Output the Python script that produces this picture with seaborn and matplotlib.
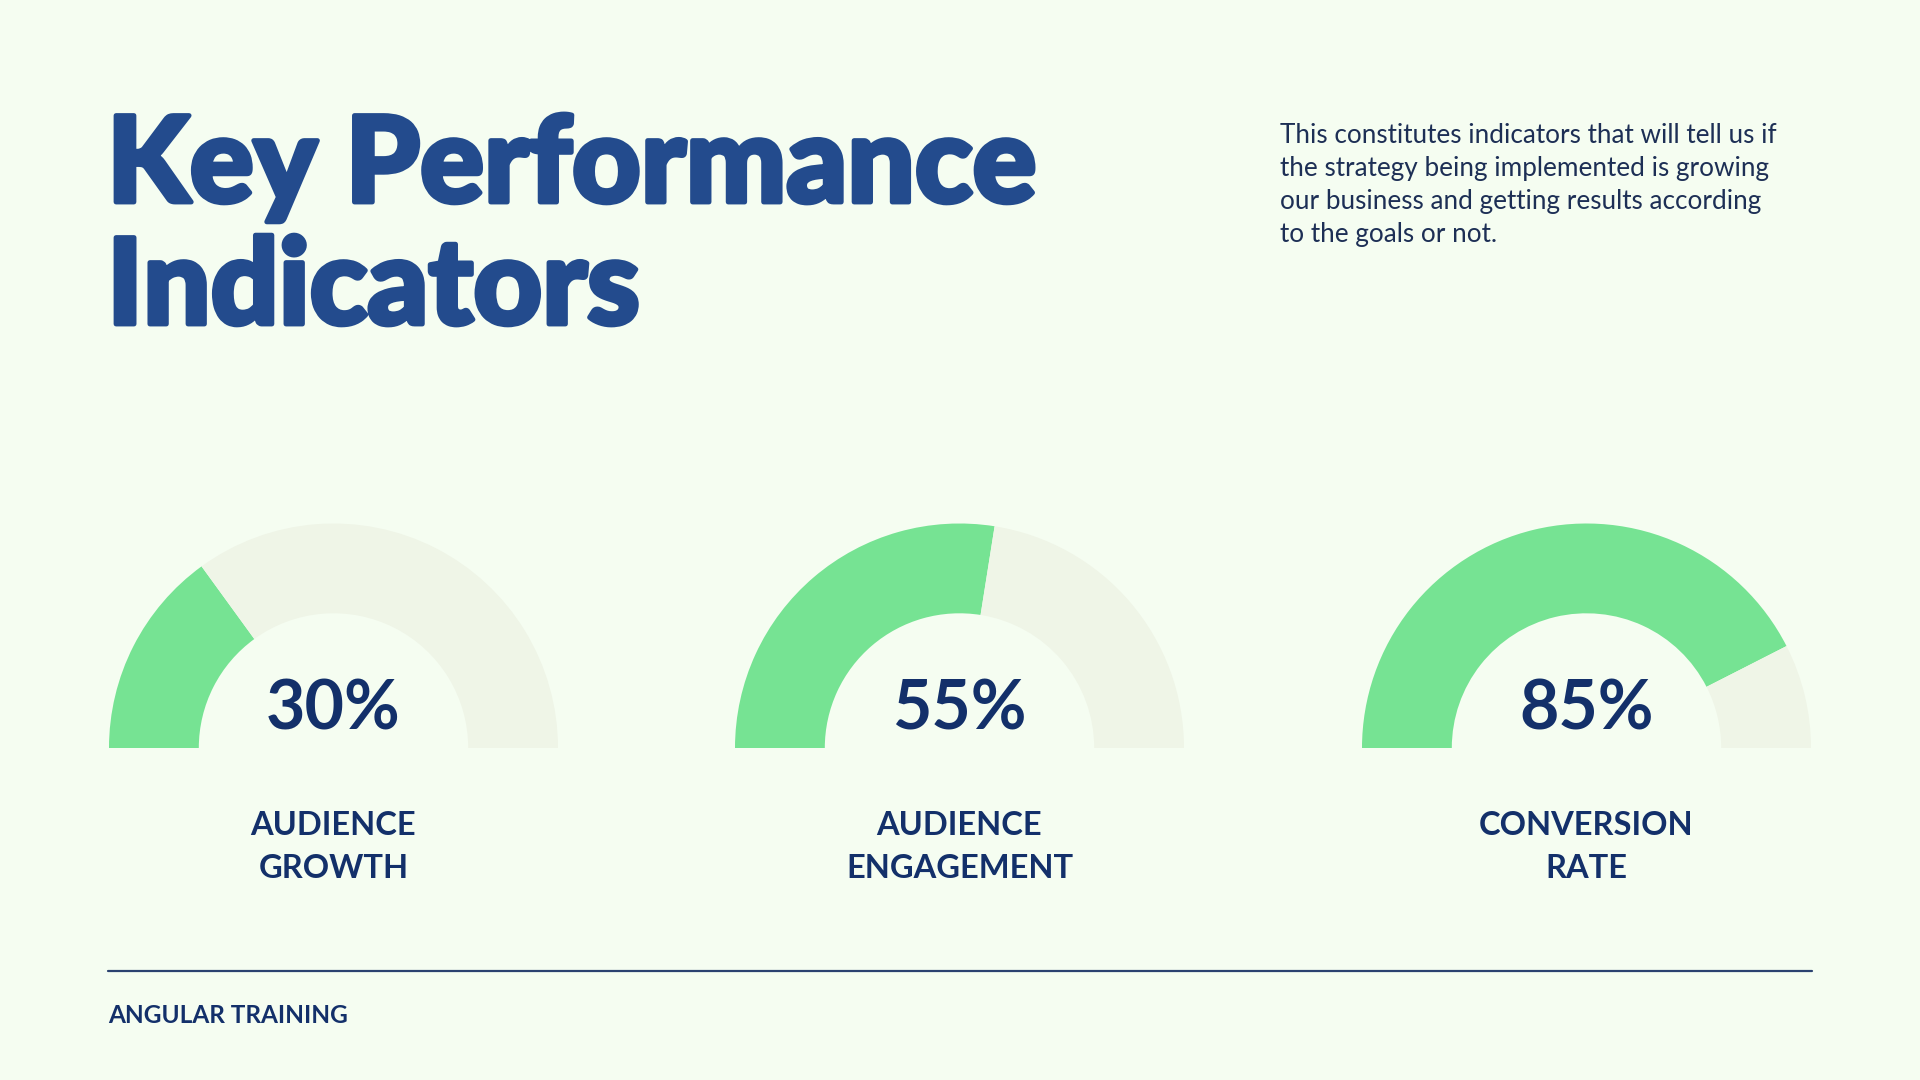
import matplotlib
matplotlib.use("Agg")
import matplotlib.pyplot as plt
import matplotlib.patheffects as pe
import seaborn as sns

# ---- data ----
kpi_values = [30, 55, 85]
kpi_labels = ["AUDIENCE\nGROWTH", "AUDIENCE\nENGAGEMENT", "CONVERSION\nRATE"]
title_lines = ["Key Performance", "Indicators"]
description_lines = [
    "This constitutes indicators that will tell us if",
    "the strategy being implemented is growing",
    "our business and getting results according",
    "to the goals or not.",
]
footer_text = "ANGULAR TRAINING"

# ---- style ----
BG = "#f5fdf1"
GREEN = "#76e393"
TRACK = "#eff5e7"
TITLE_C = "#234b8d"
NAVY = "#13306a"
TEXT_C = "#1d2f55"

sns.set_theme(style="white")
plt.rcParams["font.family"] = ["Lato", "DejaVu Sans"]

W, H = 1920, 1080
fig = plt.figure(figsize=(19.2, 10.8), dpi=100, facecolor=BG)


def fx(x):
    return x / W


def fy(y):
    return 1 - y / H


# title
for i, line in enumerate(title_lines):
    fig.text(fx(107), fy(202 + i * 122), line, fontsize=85.8, fontweight="black",
             color=TITLE_C, va="baseline", ha="left",
             path_effects=[pe.withStroke(linewidth=3.5, foreground=TITLE_C)])

# description
for i, line in enumerate(description_lines):
    fig.text(fx(1280), fy(143 + i * 33), line, fontsize=18.8, color=TEXT_C,
             va="baseline", ha="left")

# gauges
centers = [333.5, 959.5, 1586.5]
R = 224.5
base_y = 748
for cx, v, lab in zip(centers, kpi_values, kpi_labels):
    ax = fig.add_axes([fx(cx - R), fy(base_y), (2 * R) / W, R / H])
    ax.set_facecolor("none")
    ax.pie([v, 100 - v, 100], startangle=180, counterclock=False,
           colors=[GREEN, TRACK, (0, 0, 0, 0)], radius=1,
           wedgeprops=dict(width=0.4, linewidth=0))
    ax.set_xlim(-1, 1)
    ax.set_ylim(0, 1)
    ax.set_aspect("auto")
    ax.axis("off")
    fig.text(fx(cx), fy(730), f"{v}%", fontsize=49, fontweight="bold",
             color=NAVY, ha="center", va="baseline")
    for j, l in enumerate(lab.split("\n")):
        fig.text(fx(cx), fy(835 + j * 43), l, fontsize=23.5, fontweight="bold",
                 color=NAVY, ha="center", va="baseline")

# footer rule
fig.add_artist(plt.Line2D([fx(108), fx(1812)], [fy(971), fy(971)],
                          color="#2b4270", linewidth=1.6))
fig.text(fx(108), fy(1023), footer_text, fontsize=17.6, fontweight="bold",
         color=NAVY, ha="left", va="baseline")

fig.savefig("out.png", dpi=100, facecolor=BG)
